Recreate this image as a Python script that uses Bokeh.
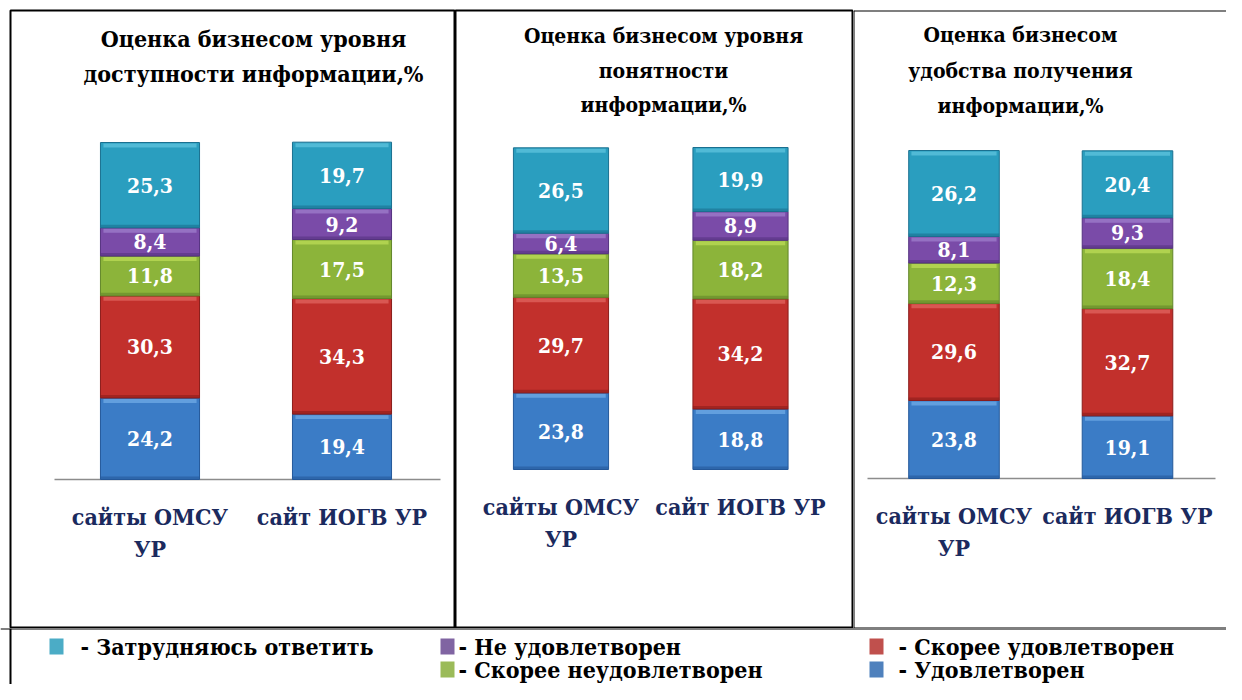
import numpy as np
from bokeh.plotting import figure
from bokeh.layouts import column, row
from bokeh.models import Range1d, FixedTicker, Span
from bokeh.core.properties import value
from bokeh.embed import file_html
from bokeh.resources import INLINE

# ---------------- data ----------------
categories = ["сайты ОМСУ\nУР", "сайт ИОГВ УР"]
series_names = ["Удовлетворен", "Скорее удовлетворен", "Скорее неудовлетворен",
                "Не удовлетворен", "Затрудняюсь ответить"]  # bottom -> top

title_access = ["Оценка бизнесом уровня", "доступности информации,%"]
title_clarity = ["Оценка бизнесом уровня", "понятности", "информации,%"]
title_convenience = ["Оценка бизнесом", "удобства получения", "информации,%"]

access_satisfied = [24.2, 19.4]
access_rather_satisfied = [30.3, 34.3]
access_rather_unsatisfied = [11.8, 17.5]
access_unsatisfied = [8.4, 9.2]
access_hard_to_say = [25.3, 19.7]

clarity_satisfied = [23.8, 18.8]
clarity_rather_satisfied = [29.7, 34.2]
clarity_rather_unsatisfied = [13.5, 18.2]
clarity_unsatisfied = [6.4, 8.9]
clarity_hard_to_say = [26.5, 19.9]

convenience_satisfied = [23.8, 19.1]
convenience_rather_satisfied = [29.6, 32.7]
convenience_rather_unsatisfied = [12.3, 18.4]
convenience_unsatisfied = [8.1, 9.3]
convenience_hard_to_say = [26.2, 20.4]

# ---------------- styles ----------------
bar_colors = ["#3B7CC6", "#C2302C", "#8CB43A", "#7A4BA8", "#2A9EBF"]
bar_edges = ["#24589A", "#8A1C1A", "#62862A", "#553280", "#1A7090"]
bar_lights = ["#7DB8EE", "#E8726C", "#C8E65E", "#A78AD6", "#6CCDE6"]
legend_colors = ["#4F81BD", "#C0504D", "#9BBB59", "#8064A2", "#4BACC6"]

FONT_NAME = "DejaVu Serif Condensed"
FONT = value(FONT_NAME)

W, H, TOP, BOTTOM = 1226, 684, 10, 628

panels = [
    dict(title=title_access,
         series=[access_satisfied, access_rather_satisfied, access_rather_unsatisfied,
                 access_unsatisfied, access_hard_to_say],
         left=10, right=455, c1=149.5, dx=192.0, zero=479, top100=142, bw=0.516,
         tx=253, ty=[38, 73], tsize="23px", base=(54, 440), fig_left=0),
    dict(title=title_clarity,
         series=[clarity_satisfied, clarity_rather_satisfied, clarity_rather_unsatisfied,
                 clarity_unsatisfied, clarity_hard_to_say],
         left=455, right=853, c1=560.5, dx=179.5, zero=469, top100=147, bw=0.53,
         tx=663, ty=[35, 70, 104], tsize="21px", base=None, fig_left=455),
    dict(title=title_convenience,
         series=[convenience_satisfied, convenience_rather_satisfied,
                 convenience_rather_unsatisfied, convenience_unsatisfied,
                 convenience_hard_to_say],
         left=853, right=W, c1=953.5, dx=173.5, zero=478, top100=150, bw=0.522,
         tx=1020, ty=[34, 70, 105], tsize="21px", base=(867, 1215), fig_left=853),
]


def fmt(v):
    return f"{v:.1f}".replace(".", ",")


figs = []
for i, P in enumerate(panels):
    ppu = (P["zero"] - P["top100"]) / 100.0
    x0 = 1 - (P["c1"] - P["left"]) / P["dx"]
    x1 = x0 + (P["right"] - P["left"]) / P["dx"]
    y0 = -(BOTTOM - P["zero"]) / ppu
    y1 = (P["zero"] - TOP) / ppu
    width = P["right"] - P["fig_left"]
    p = figure(width=width, height=BOTTOM,
               x_range=Range1d(x0, x1), y_range=Range1d(y0, y1),
               output_backend="svg", toolbar_location=None, y_axis_location=None,
               min_border_left=P["left"] - P["fig_left"], min_border_right=0,
               min_border_top=TOP, min_border_bottom=0)
    p.grid.visible = False
    p.background_fill_color = "white"
    p.border_fill_color = "white"
    if i < 2:
        p.outline_line_color = "black"
        p.outline_line_width = 2
    else:
        p.outline_line_color = None
        for loc, dim in [(x0, "height"), (y1, "width"), (y0, "width")]:
            p.add_layout(Span(location=loc, dimension=dim, line_color="black", line_width=2))

    ax = p.xaxis[0]
    ax.fixed_location = 0
    ax.ticker = FixedTicker(ticks=[1, 2])
    ax.major_label_overrides = {1: categories[0], 2: categories[1]}
    ax.axis_line_color = None
    ax.major_tick_line_color = None
    ax.minor_tick_line_color = None
    ax.major_label_standoff = 17
    ax.major_label_text_font = FONT_NAME
    ax.major_label_text_font_style = "bold"
    ax.major_label_text_font_size = "23px"
    ax.major_label_text_color = "#1B2A5E"

    if P["base"] is not None:
        bx0 = x0 + (P["base"][0] - P["left"]) / P["dx"]
        bx1 = x0 + (P["base"][1] - P["left"]) / P["dx"]
        p.segment(x0=[bx0], y0=[0], x1=[bx1], y1=[0], line_color="#8C8C8C", line_width=1.5)

    xs = np.array([1, 2])
    bottom = np.zeros(2)
    hl = 5 / ppu
    sh = 3 / ppu
    for k, s in enumerate(P["series"]):
        vals = np.array(s)
        top = bottom + vals
        p.vbar(x=xs, bottom=bottom, top=top, width=P["bw"], fill_color=bar_colors[k],
               line_color=bar_edges[k], line_width=1)
        p.vbar(x=xs, bottom=bottom, top=bottom + sh, width=P["bw"],
               fill_color=bar_edges[k], fill_alpha=0.6, line_color=None)
        p.vbar(x=xs, bottom=top - hl, top=top - 0.3, width=P["bw"] * 0.94,
               fill_color=bar_lights[k], fill_alpha=0.6, line_color=None)
        p.text(x=xs, y=(bottom + top) / 2, text=[fmt(v) for v in vals],
               text_color="white", text_font=FONT, text_font_style="bold",
               text_font_size="21px", text_align="center", text_baseline="middle")
        bottom = top

    ty = [(P["zero"] - t) / ppu for t in P["ty"]]
    txd = x0 + (P["tx"] - P["left"]) / P["dx"]
    p.text(x=[txd] * len(ty), y=ty, text=P["title"], text_color="black", text_font=FONT,
           text_font_style="bold", text_font_size=P["tsize"], text_align="center",
           text_baseline="middle")
    figs.append(p)

# ---------------- legend strip ----------------
legend_order = [4, 3, 1, 2, 0]
legend_sq_x = [56, 447, 876, 447, 876]
legend_tx = [80, 458, 898, 458, 898]
legend_ty = [646, 646, 646, 669, 669]

lg = figure(width=W, height=H - BOTTOM,
            x_range=Range1d(0, W), y_range=Range1d(H, BOTTOM),
            output_backend="svg", toolbar_location=None,
            x_axis_location=None, y_axis_location=None,
            min_border_left=0, min_border_right=0, min_border_top=0, min_border_bottom=0)
lg.grid.visible = False
lg.outline_line_color = None
lg.add_layout(Span(location=10, dimension="height", line_color="black", line_width=2))
lg.add_layout(Span(location=BOTTOM, dimension="width", line_color="black", line_width=2))
lg.rect(x=legend_sq_x, y=legend_ty, width=14, height=16,
        fill_color=[legend_colors[k] for k in legend_order], line_color=None)
lg.text(x=legend_tx, y=legend_ty, text=["- " + series_names[k] for k in legend_order],
        text_color="black", text_font=FONT, text_font_style="bold", text_font_size="23px",
        text_align="left", text_baseline="middle")

layout = column(row(*figs, spacing=0), lg, spacing=0)
open("out.html", "w").write(file_html(layout, INLINE))
